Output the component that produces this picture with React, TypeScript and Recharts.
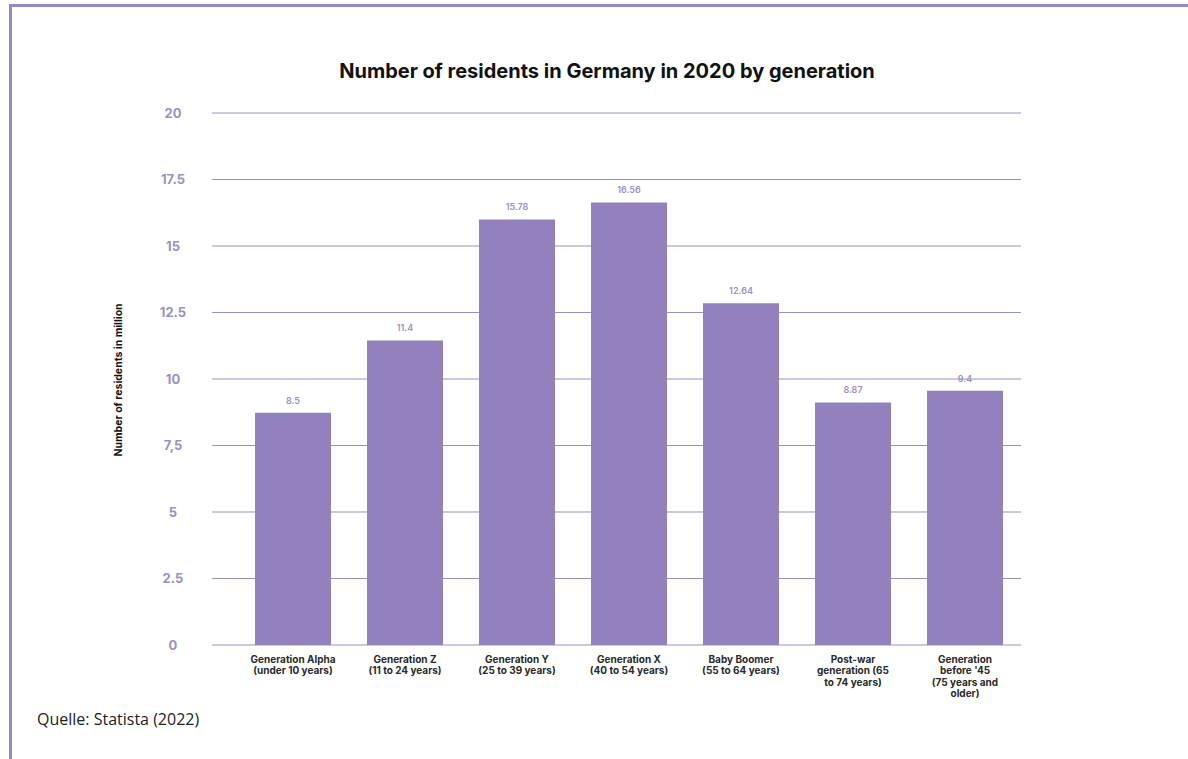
import { BarChart, Bar, XAxis, YAxis, CartesianGrid, LabelList, Label } from 'recharts'

const generations = [
  'Generation Alpha',
  'Generation Z',
  'Generation Y',
  'Generation X',
  'Baby Boomer',
  'Post-war generation',
  "Generation before '45",
]

// bar heights as drawn in the source picture
const residents = [8.73, 11.45, 16.0, 16.64, 12.85, 9.12, 9.56]

// the value labels printed above the bars
const valueLabels = ['8.5', '11.4', '15.78', '16.56', '12.64', '8.87', '9.4']

const tickLines = [
  ['Generation Alpha', '(under 10 years)'],
  ['Generation Z', '(11 to 24 years)'],
  ['Generation Y', '(25 to 39 years)'],
  ['Generation X', '(40 to 54 years)'],
  ['Baby Boomer', '(55 to 64 years)'],
  ['Post-war', 'generation (65', 'to 74 years)'],
  ['Generation', "before '45", '(75 years and', 'older)'],
]

const yTicks = [0, 2.5, 5, 7.5, 10, 12.5, 15, 17.5, 20]
const yTickLabels = ['0', '2.5', '5', '7,5', '10', '12.5', '15', '17.5', '20']

const PURPLE = '#9381bd'
const LIGHT = '#9b90c4'

const data = generations.map((g, i) => ({
  name: g,
  value: residents[i],
  label: valueLabels[i],
}))

function XTick(props: any) {
  const { x, y, index } = props
  const lines = tickLines[index] ?? []
  return (
    <text
      x={x}
      y={y}
      textAnchor="middle"
      fontFamily="Inter, sans-serif"
      fontSize={10}
      fontWeight={700}
      fill="#2a2a2a"
    >
      {lines.map((l, i) => (
        <tspan key={i} x={x} dy={i === 0 ? 10 : 11.3}>
          {l}
        </tspan>
      ))}
    </text>
  )
}

function YTick(props: any) {
  const { y, payload } = props
  const idx = yTicks.indexOf(payload.value)
  return (
    <text
      x={173}
      y={y}
      dy={4.5}
      textAnchor="middle"
      fontFamily="Inter, sans-serif"
      fontSize={13}
      fontWeight={700}
      fill={LIGHT}
    >
      {idx >= 0 ? yTickLabels[idx] : payload.value}
    </text>
  )
}

export default function App() {
  return (
    <div
      style={{
        position: 'absolute',
        left: 0,
        top: 0,
        width: 1188,
        height: 759,
        background: '#fff',
        overflow: 'hidden',
      }}
    >
      <div
        style={{
          position: 'absolute',
          left: 9,
          top: 4,
          width: 1179,
          height: 755,
          borderTop: '3px solid #9787c7',
          borderLeft: '3px solid #9787c7',
        }}
      />
      <div
        style={{
          position: 'absolute',
          left: 207,
          width: 800,
          top: 59,
          textAlign: 'center',
          fontFamily: 'Inter, sans-serif',
          fontWeight: 700,
          fontSize: 20,
          color: '#111',
        }}
      >
        Number of residents in Germany in 2020 by generation
      </div>
      <div style={{ position: 'absolute', left: 0, top: 0 }}>
        <BarChart
          width={1188}
          height={759}
          data={data}
          margin={{ top: 113, right: 167, bottom: 14, left: 0 }}
        >
          <CartesianGrid vertical={false} stroke={LIGHT} strokeWidth={1} />
          <XAxis
            dataKey="name"
            axisLine={false}
            tickLine={false}
            interval={0}
            padding={{ left: 25, right: 0 }}
            height={100}
            tick={<XTick />}
          />
          <YAxis
            width={212}
            domain={[0, 20]}
            ticks={yTicks}
            axisLine={false}
            tickLine={false}
            tick={<YTick />}
          >
            <Label
              content={() => (
                <text
                  x={0}
                  y={0}
                  transform="translate(122 380) rotate(-90)"
                  textAnchor="middle"
                  fontFamily="Inter, sans-serif"
                  fontSize={10.5}
                  fontWeight={700}
                  fill="#111"
                >
                  Number of residents in million
                </text>
              )}
            />
          </YAxis>
          <Bar dataKey="value" fill={PURPLE} barSize={76} isAnimationActive={false}>
            <LabelList
              dataKey="label"
              position="top"
              offset={9}
              fontFamily="Inter, sans-serif"
              fontSize={9}
              fontWeight={600}
              fill={LIGHT}
            />
          </Bar>
        </BarChart>
      </div>
      <div
        style={{
          position: 'absolute',
          left: 37,
          top: 708,
          fontFamily: '"Open Sans", sans-serif',
          fontSize: 16,
          color: '#222',
        }}
      >
        Quelle: Statista (2022)
      </div>
    </div>
  )
}
